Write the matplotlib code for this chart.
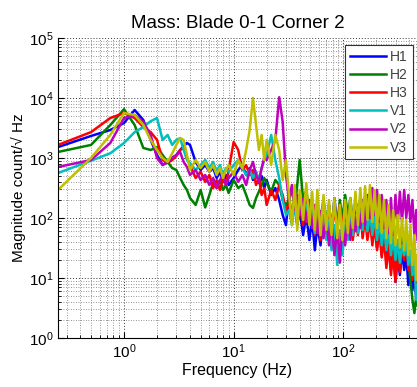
import matplotlib
matplotlib.use("Agg")
import matplotlib.pyplot as plt

plt.rcParams['font.family'] = ['Liberation Sans', 'DejaVu Sans']
plt.rcParams['mathtext.default'] = 'regular'

# frequency bins (Hz)
freq = [0.25, 0.5, 0.75, 1, 1.25, 1.5, 1.75, 2, 2.25, 2.5, 2.75, 3,
        3.25, 3.5, 3.75, 4, 4.5, 5, 5.5, 6, 6.5, 7, 7.5, 8, 8.5, 9,
        10, 11, 12, 13, 14, 15, 16, 17, 18, 19, 20,
        22, 24, 26, 28, 30,
        32, 34, 36, 38, 40,
        43, 46, 49, 52, 55, 58,
        62, 66, 70, 74, 78,
        83, 88, 93, 98,
        104, 110, 116, 122, 129, 136, 143, 150, 158, 166,
        175, 184, 193, 203, 213, 224, 235, 247, 259, 272, 285, 299,
        313, 328, 343, 359, 375, 392, 409, 427, 445, 463, 475]

H1 = [1520, 2330, 2930, 3830, 6310, 4300, 2000, 1120, 764, 860, 1000, 1120,
      1360, 1580, 1780, 1650, 860, 631, 764, 590, 680, 464, 590, 400, 521, 355,
      464, 631, 764, 521, 680, 430, 590, 383, 500, 316, 430,
      242, 316, 200, 112, 76,
      242, 93, 165, 76, 136,
      52, 112, 43, 93, 29, 76,
      35, 112, 46, 165, 63,
      215, 76, 136, 63,
      165, 68, 136, 52, 130, 63, 147, 68, 165, 60,
      136, 43, 112, 32, 86, 24, 63, 18.5, 46, 13.6, 32, 8.6,
      24, 11.2, 29, 13.6, 24, 7.6, 16.5, 6.3, 11, 4.3, 6.3]

H2 = [1260, 1650, 3550, 6500, 3550, 1470, 1360, 1520, 1120, 860, 680, 631,
      464, 355, 293, 215, 165, 293, 150, 242, 383, 316, 430, 293, 355, 261,
      430, 316, 355, 242, 165, 147, 215, 275, 355, 464, 383,
      275, 430, 355, 200, 165,
      200, 316, 136, 355, 926,
      200, 293, 112, 200, 76, 165,
      100, 200, 86, 165, 68,
      147, 76, 200, 93,
      242, 112, 215, 86, 200, 100, 215, 86, 190, 76,
      165, 56, 136, 46, 112, 35, 86, 29, 68, 22, 52, 16.5,
      43, 18, 63, 29, 52, 18, 9.3, 4.3, 2.6, 5.2, 3.5]

H3 = [1650, 2700, 4640, 5620, 4640, 3290, 2700, 2000, 926, 825, 926, 1080,
      1360, 1470, 1000, 764, 464, 590, 400, 521, 316, 430, 293, 464, 355, 631,
      1850, 1360, 631, 760, 521, 631, 355, 464, 242, 316, 165,
      293, 200, 355, 242, 136,
      165, 112, 200, 86, 165,
      76, 242, 100, 165, 52, 112,
      43, 93, 52, 112, 56,
      136, 68, 165, 76,
      136, 52, 112, 43, 100, 52, 130, 46, 100, 43,
      93, 35, 76, 29, 63, 22, 46, 14.7, 35, 11.2, 27, 8.6,
      22, 12.6, 35, 20, 43, 13.6, 24, 9.3, 16.5, 6.3, 9.3]

V1 = [562, 900, 1200, 1780, 2700, 3290, 4100, 4640, 2000, 2420, 1650, 2000,
      2150, 1360, 926, 825, 631, 764, 926, 680, 860, 590, 764, 521, 680, 590,
      764, 926, 680, 521, 631, 464, 590, 430, 680, 926, 1120,
      2420, 926, 464, 200, 112,
      136, 76, 165, 93, 200,
      112, 165, 76, 147, 56, 136,
      52, 112, 43, 93, 29,
      76, 16.5, 63, 24,
      76, 43, 112, 52, 112, 56, 130, 63, 136, 60,
      130, 52, 112, 43, 93, 35, 76, 29, 63, 24, 52, 20,
      43, 18, 35, 24, 43, 16.5, 29, 11.2, 20, 4.3, 7.6]

V2 = [708, 926, 1780, 4640, 5210, 3980, 2420, 1000, 764, 860, 1000, 1120,
      1260, 860, 708, 521, 631, 430, 521, 355, 464, 316, 430, 521, 355, 464,
      590, 400, 521, 355, 631, 860, 521, 400, 680, 1000, 926,
      1360, 2000, 10300, 4000, 521,
      200, 355, 136, 242, 112,
      215, 86, 200, 68, 165, 56,
      130, 46, 100, 35, 86,
      24, 68, 18, 76,
      35, 112, 43, 136, 60, 165, 68, 200, 76, 242,
      100, 316, 112, 293, 86, 242, 68, 200, 56, 215, 52, 242,
      76, 275, 86, 293, 100, 242, 86, 200, 52, 136, 43]

V3 = [293, 1000, 2420, 5620, 5210, 3550, 2000, 1360, 1000, 860, 1190, 1650,
      2150, 2000, 1120, 631, 926, 680, 860, 590, 764, 521, 680, 464, 631, 764,
      521, 926, 680, 1360, 2930, 10000, 3550, 1360, 2420, 926, 2000,
      764, 2420, 1360, 430, 926,
      242, 76, 355, 63, 293,
      93, 383, 76, 275, 63, 293,
      52, 242, 63, 200, 52,
      215, 46, 165, 43,
      200, 56, 215, 68, 275, 76, 316, 86, 340, 93,
      355, 86, 293, 68, 242, 56, 200, 46, 165, 38, 136, 35,
      112, 32, 100, 29, 93, 24, 76, 16.5, 52, 9.3, 24]

series = [H1, H2, H3, V1, V2, V3]
names = ['H1', 'H2', 'H3', 'V1', 'V2', 'V3']
colors = [(0, 0, 1), (0, 0.5, 0), (1, 0, 0),
          (0, 0.75, 0.75), (0.75, 0, 0.75), (0.75, 0.75, 0)]

fig = plt.figure(figsize=(4.17, 3.87), dpi=100)
ax = fig.add_axes([58/417, 1-338/387, 359/417, 300/387])

for s, n, c in zip(series, names, colors):
    ax.loglog(freq, s, color=c, lw=1.8, label=n)

ax.set_xlim(0.25, 470)
ax.set_ylim(1, 1e5)

ax.grid(True, which='major', linestyle=(0, (1, 2)), color='0.2', lw=0.7)
ax.grid(True, which='minor', linestyle=(0, (1, 2)), color='0.45', lw=0.6)
ax.tick_params(which='both', direction='in', labelsize=11)
ax.tick_params(which='major', length=4)
ax.tick_params(which='minor', length=2)
ax.spines['top'].set_visible(False)
ax.spines['right'].set_visible(False)

ax.set_title('Mass: Blade 0-1 Corner 2', fontsize=13.5, pad=7)
ax.set_xlabel('Frequency (Hz)', fontsize=11.5, labelpad=1)
ax.set_ylabel('Magnitude count/\u221a Hz', fontsize=11, labelpad=2)

leg = ax.legend(loc='upper right', bbox_to_anchor=(0.989, 0.977),
                borderaxespad=0, fontsize=10, handlelength=2.6,
                labelspacing=0.3, fancybox=False, framealpha=1,
                edgecolor='0.2', borderpad=0.35, handletextpad=0.3)
leg.get_frame().set_linewidth(0.8)
for t in leg.get_texts():
    t.set_color('0.25')

fig.savefig('out.png', dpi=100)
